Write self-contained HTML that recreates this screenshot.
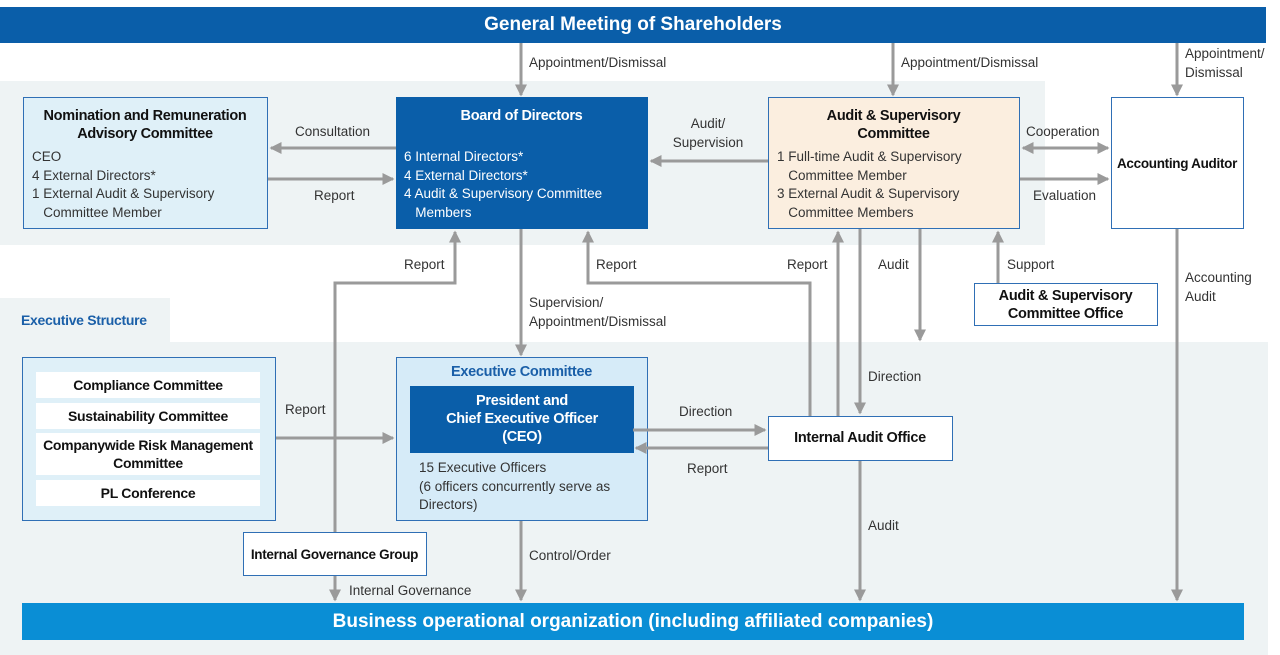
<!DOCTYPE html>
<html><head><meta charset="utf-8"><style>
*{margin:0;padding:0;box-sizing:border-box}
body{width:1280px;height:655px;background:#fff;position:relative;overflow:hidden;font-family:"Liberation Sans",sans-serif;color:#333}
.a{position:absolute}
.box{position:absolute;border:1.5px solid #2f6fb5}
.t{position:absolute;font-size:13.5px;color:#333;white-space:nowrap;line-height:19px}
.b{font-weight:bold;color:#111;letter-spacing:-0.3px}
.c{text-align:center}
.row{position:absolute;left:13px;width:224px;background:#fff;font-weight:bold;font-size:14px;color:#111;text-align:center;line-height:18px;letter-spacing:-0.3px}
</style></head><body>
<div class="a" style="left:0;top:81px;width:1045px;height:164px;background:#eef3f4"></div>
<div class="a" style="left:0;top:342px;width:1268px;height:313px;background:#eef3f4"></div>
<div class="a" style="left:0;top:298px;width:170px;height:44px;background:#eef3f4"></div>
<div class="t b" style="left:21px;top:311px;color:#1a5fa8;font-size:14px">Executive Structure</div>

<div class="a" style="left:0;top:7px;width:1266px;height:36px;background:#0a5ea9;color:#fff;font-weight:bold;font-size:19px;text-align:center;line-height:36px">General Meeting of Shareholders</div>
<div class="a" style="left:22px;top:603px;width:1222px;height:37px;background:#0a8ed5;color:#fff;font-weight:bold;font-size:19px;text-align:center;line-height:37px">Business operational organization (including affiliated companies)</div>

<!-- labels -->
<div class="t" style="left:529px;top:53px">Appointment/Dismissal</div>
<div class="t" style="left:901px;top:53px">Appointment/Dismissal</div>
<div class="t" style="left:1185px;top:44px">Appointment/<br>Dismissal</div>
<div class="t" style="left:295px;top:122px">Consultation</div>
<div class="t" style="left:314px;top:186px">Report</div>
<div class="t c" style="left:670px;top:114px;width:76px">Audit/<br>Supervision</div>
<div class="t" style="left:1026px;top:122px">Cooperation</div>
<div class="t" style="left:1033px;top:186px">Evaluation</div>
<div class="t" style="left:529px;top:293px">Supervision/<br>Appointment/Dismissal</div>
<div class="t" style="left:404px;top:255px">Report</div>
<div class="t" style="left:596px;top:255px">Report</div>
<div class="t" style="left:787px;top:255px">Report</div>
<div class="t" style="left:878px;top:255px">Audit</div>
<div class="t" style="left:1007px;top:255px">Support</div>
<div class="t" style="left:1185px;top:268px">Accounting<br>Audit</div>
<div class="t" style="left:868px;top:367px">Direction</div>
<div class="t" style="left:285px;top:400px">Report</div>
<div class="t" style="left:679px;top:402px">Direction</div>
<div class="t" style="left:687px;top:459px">Report</div>
<div class="t" style="left:868px;top:516px">Audit</div>
<div class="t" style="left:529px;top:546px">Control/Order</div>
<div class="t" style="left:349px;top:581px">Internal Governance</div>

<!-- boxes -->
<div class="box" style="left:23px;top:97px;width:245px;height:132px;background:#dff0f8">
 <div class="t b c" style="left:0;top:9px;width:242px;font-size:14.5px;line-height:18px">Nomination and Remuneration<br>Advisory Committee</div>
 <div class="t" style="left:8px;top:50px;line-height:18.5px">CEO<br>4 External Directors*<br>1 External Audit &amp; Supervisory<br>&nbsp;&nbsp;&nbsp;Committee Member</div>
</div>
<div class="box" style="left:396px;top:97px;width:252px;height:132px;background:#0a5ea9;border-color:#0a5ea9">
 <div class="t b c" style="left:0;top:9px;width:249px;color:#fff;font-size:14.5px">Board of Directors</div>
 <div class="t" style="left:7px;top:50px;color:#fff;line-height:18.5px">6 Internal Directors*<br>4 External Directors*<br>4 Audit &amp; Supervisory Committee<br>&nbsp;&nbsp;&nbsp;Members</div>
</div>
<div class="box" style="left:768px;top:97px;width:252px;height:132px;background:#fbeedf">
 <div class="t b c" style="left:0;top:9px;width:249px;font-size:14.5px;line-height:18px">Audit &amp; Supervisory<br>Committee</div>
 <div class="t" style="left:8px;top:50px;line-height:18.5px">1 Full-time Audit &amp; Supervisory<br>&nbsp;&nbsp;&nbsp;Committee Member<br>3 External Audit &amp; Supervisory<br>&nbsp;&nbsp;&nbsp;Committee Members</div>
</div>
<div class="box" style="left:1111px;top:97px;width:133px;height:132px;background:#fff">
 <div class="t b" style="left:0;top:56px;width:130px;font-size:13.5px;text-align:center">Accounting Auditor</div>
</div>
<div class="box" style="left:974px;top:283px;width:184px;height:43px;background:#fff">
 <div class="t b c" style="left:0;top:3px;width:181px;font-size:14.5px;line-height:18px">Audit &amp; Supervisory<br>Committee Office</div>
</div>
<div class="box" style="left:22px;top:357px;width:254px;height:164px;background:#dff0f8">
 <div class="row" style="top:14px;height:26px;line-height:26px">Compliance Committee</div>
 <div class="row" style="top:45px;height:26px;line-height:26px">Sustainability Committee</div>
 <div class="row" style="top:75px;height:42px;padding-top:3px">Companywide Risk Management<br>Committee</div>
 <div class="row" style="top:122px;height:26px;line-height:26px">PL Conference</div>
</div>
<div class="box" style="left:396px;top:357px;width:252px;height:164px;background:#d6ebf8">
 <div class="t b c" style="left:0;top:5px;width:249px;font-size:14.5px;color:#1a5fa8">Executive Committee</div>
 <div class="a" style="left:13px;top:28px;width:224px;height:67px;background:#0a5ea9;color:#fff;font-weight:bold;font-size:14.5px;text-align:center;line-height:18px;padding-top:6px;letter-spacing:-0.3px">President and<br>Chief Executive Officer<br>(CEO)</div>
 <div class="t" style="left:22px;top:101px;line-height:18.5px">15 Executive Officers<br>(6 officers concurrently serve as<br>Directors)</div>
</div>
<div class="box" style="left:768px;top:416px;width:185px;height:45px;background:#fff">
 <div class="t b c" style="left:0;top:12px;width:182px;font-size:14.5px">Internal Audit Office</div>
</div>
<div class="box" style="left:243px;top:532px;width:184px;height:44px;background:#fff">
 <div class="t b c" style="left:0;top:12px;width:181px;font-size:13.5px">Internal Governance Group</div>
</div>

<svg class="a" style="left:0;top:0" width="1280" height="655">
<defs><marker id="m" markerWidth="4" markerHeight="4" refX="3.5" refY="2" orient="auto" markerUnits="strokeWidth"><path d="M0,0L4,2L0,4z" fill="#9a9a9a"/></marker></defs>
<g stroke="#9a9a9a" stroke-width="3" fill="none" marker-end="url(#m)">
<line x1="521" y1="43" x2="521" y2="95"/>
<line x1="893" y1="43" x2="893" y2="95"/>
<line x1="1177" y1="43" x2="1177" y2="95"/>
<line x1="396" y1="148" x2="271" y2="148"/>
<line x1="268" y1="179" x2="393" y2="179"/>
<line x1="768" y1="161" x2="651" y2="161"/>
<line x1="1060" y1="148" x2="1108" y2="148"/>
<line x1="1070" y1="148" x2="1023" y2="148"/>
<line x1="1020" y1="179" x2="1108" y2="179"/>
<line x1="521" y1="229" x2="521" y2="355"/>
<polyline points="335,532 335,283 455,283 455,232"/>
<polyline points="810,416 810,283 588,283 588,232"/>
<line x1="838" y1="416" x2="838" y2="232"/>
<line x1="860" y1="229" x2="860" y2="413"/>
<line x1="920" y1="229" x2="920" y2="340"/>
<line x1="998" y1="283" x2="998" y2="232"/>
<line x1="1177" y1="229" x2="1177" y2="600"/>
<line x1="276" y1="438" x2="393" y2="438"/>
<line x1="633" y1="430" x2="765" y2="430"/>
<line x1="768" y1="448" x2="636" y2="448"/>
<line x1="860" y1="461" x2="860" y2="600"/>
<line x1="521" y1="521" x2="521" y2="600"/>
<line x1="335" y1="576" x2="335" y2="600"/>
</g></svg>
</body></html>
